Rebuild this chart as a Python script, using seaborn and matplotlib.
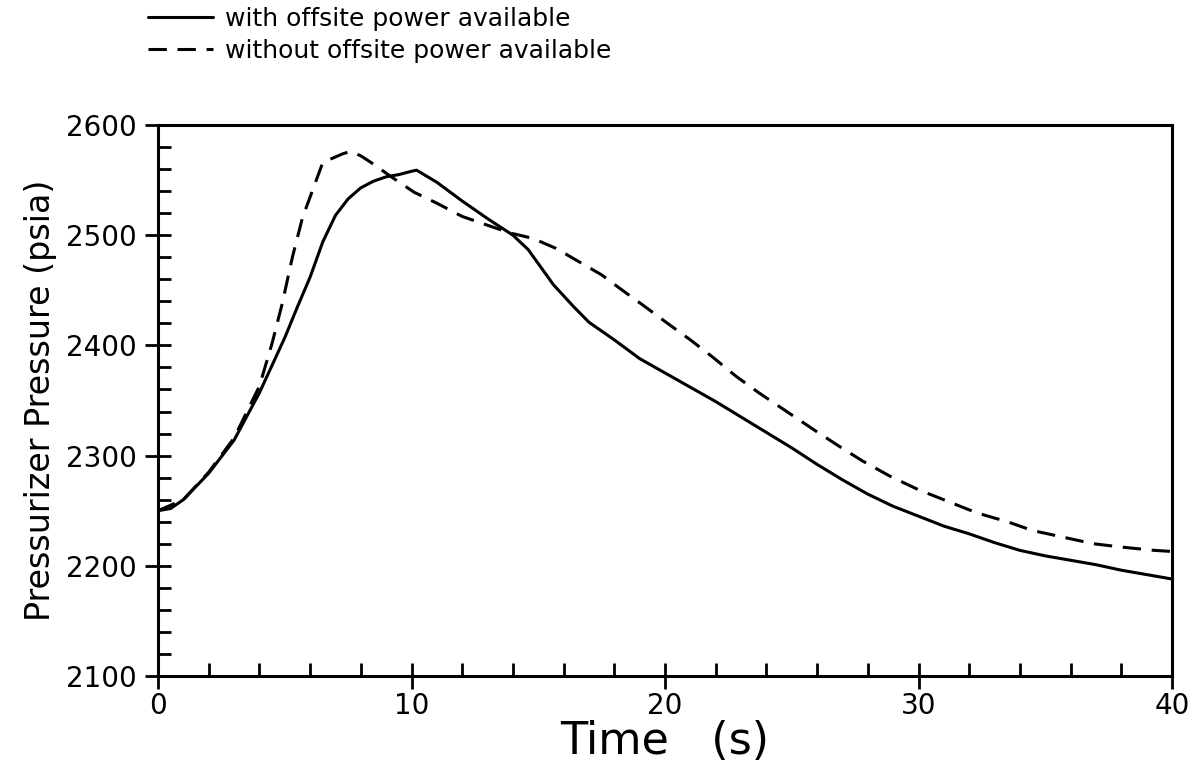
import matplotlib
matplotlib.use("Agg")
import matplotlib.pyplot as plt
import seaborn as sns
import pandas as pd
from matplotlib.ticker import MultipleLocator

# ==========================================================
# DATA
# ==========================================================

time_with = [0, 0.5, 1, 2, 3, 4, 5, 5.5, 6, 6.5, 7, 7.5, 8, 8.5, 9, 9.5,
             10, 10.2, 11, 12, 13, 14, 14.6, 15.1, 15.6, 16.4, 17, 18, 19,
             20, 21, 22, 23, 24, 25, 26, 27, 28, 29, 30, 31, 32, 33, 34,
             35, 36, 37, 38, 39, 40]
pressure_with = [2250, 2252, 2260, 2284, 2314, 2357, 2407, 2435, 2462, 2494,
                 2518, 2533, 2543, 2549, 2553, 2555, 2558, 2559, 2548, 2531,
                 2515, 2500, 2487, 2471, 2455, 2435, 2421, 2405, 2388, 2375,
                 2362, 2349, 2335, 2321, 2307, 2292, 2278, 2265, 2254, 2245,
                 2236, 2229, 2221, 2214, 2209, 2205, 2201, 2196, 2192, 2188]

time_without = [0, 1, 2, 3, 4, 4.5, 4.9, 5.3, 5.7, 6.1, 6.5, 6.9, 7.3, 7.6,
                8.0, 8.4, 9.2, 10.1, 11.0, 12.0, 13.0, 13.9, 14.8, 15.7,
                16.6, 17.5, 18.2, 19.1, 20.1, 21.0, 21.9, 22.8, 23.7, 24.8,
                25.9, 26.9, 27.8, 28.9, 30.0, 31.1, 32.3, 33.5, 34.5, 35.7,
                36.9, 38.0, 39.3, 40]
pressure_without = [2250, 2260, 2285, 2316, 2363, 2402, 2438, 2480, 2516,
                    2541, 2566, 2570, 2574, 2576, 2572, 2566, 2553, 2539,
                    2529, 2517, 2509, 2502, 2497, 2488, 2476, 2464, 2452,
                    2437, 2420, 2405, 2389, 2372, 2357, 2340, 2323, 2308,
                    2295, 2281, 2269, 2259, 2248, 2240, 2232, 2226, 2220,
                    2217, 2214, 2213]

label_with = "with offsite power available"
label_without = "without offsite power available"

df_with = pd.DataFrame({"t": time_with, "p": pressure_with})
df_without = pd.DataFrame({"t": time_without, "p": pressure_without})

# ==========================================================
# STYLE
# ==========================================================

sns.set_style("white")
plt.rcParams["font.family"] = ["DejaVu Sans"]
plt.rcParams["text.color"] = "black"
plt.rcParams["axes.labelcolor"] = "black"
plt.rcParams["xtick.color"] = "black"
plt.rcParams["ytick.color"] = "black"

fig = plt.figure(figsize=(11.99, 7.73), dpi=100)
ax = fig.add_axes([0.1318, 0.1255, 0.8457, 0.7128])

sns.lineplot(data=df_with, x="t", y="p", color="black", linewidth=2.2,
             label=label_with, ax=ax, sort=False)
sns.lineplot(data=df_without, x="t", y="p", color="black", linewidth=2.2,
             linestyle=(0, (6, 3.5)), label=label_without, ax=ax, sort=False)

ax.set_xlim(0, 40)
ax.set_ylim(2100, 2600)

ax.xaxis.set_major_locator(MultipleLocator(10))
ax.xaxis.set_minor_locator(MultipleLocator(2))
ax.yaxis.set_major_locator(MultipleLocator(100))
ax.yaxis.set_minor_locator(MultipleLocator(20))

ax.tick_params(which="major", direction="inout", length=19, width=2,
               labelsize=20, pad=2, color="black", labelcolor="black")
ax.tick_params(axis="y", which="major", pad=6)
ax.tick_params(which="minor", direction="in", length=9.5, width=2,
               color="black")
ax.tick_params(top=False, right=False, which="both")
ax.tick_params(axis="both", which="both", bottom=True, left=True)

for s in ax.spines.values():
    s.set_linewidth(2.2)
    s.set_color("black")

ax.set_xlabel("Time   (s)", fontsize=32, labelpad=0)
ax.set_ylabel("Pressurizer Pressure (psia)", fontsize=24, labelpad=6)

leg = ax.legend(loc="lower left", bbox_to_anchor=(-0.02, 1.095),
                frameon=False, fontsize=18, handlelength=2.6,
                handletextpad=0.5, labelspacing=0.3, borderaxespad=0)
for txt in leg.get_texts():
    txt.set_color("black")
    txt.set_fontweight("medium")

plt.savefig("out.png", dpi=100)
plt.close()
